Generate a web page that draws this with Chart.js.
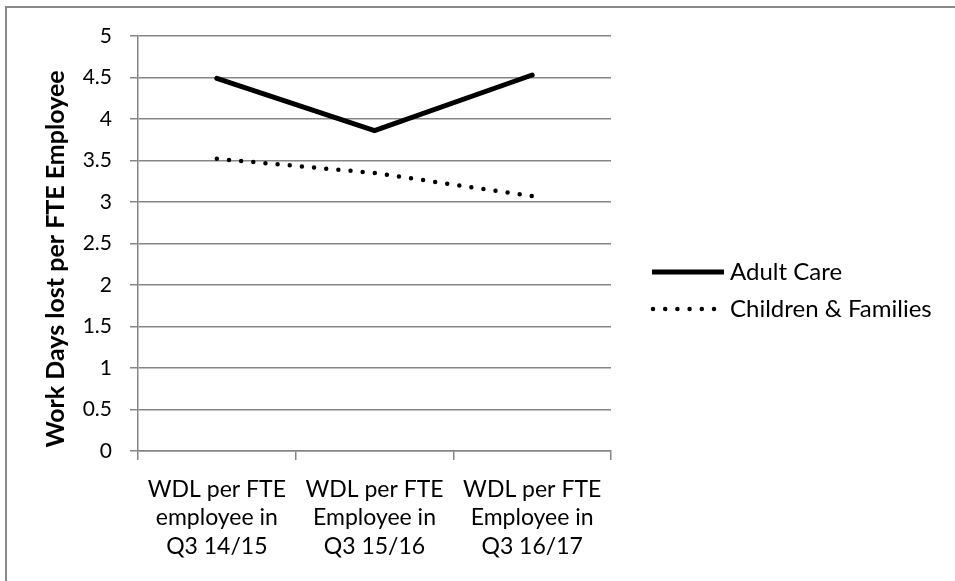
<!DOCTYPE html>
<html>
<head>
<meta charset="utf-8">
<script src="https://cdn.jsdelivr.net/npm/chart.js@4/dist/chart.umd.min.js"></script>
<style>
  html, body { margin: 0; padding: 0; background: #fff; overflow: hidden; }
  canvas { display: block; }
</style>
</head>
<body>
<canvas id="c" width="955" height="581"></canvas>
<script>
// Quarterly work days lost per FTE employee, by service area
const categories = [
  ["WDL per FTE", "employee in", "Q3 14/15"],
  ["WDL per FTE", "Employee in", "Q3 15/16"],
  ["WDL per FTE", "Employee in", "Q3 16/17"]
];
const adultCare = [4.49, 3.86, 4.53];
const childrenFamilies = [3.52, 3.35, 3.07];
const seriesNames = ["Adult Care", "Children & Families"];
const yAxisTitle = "Work Days lost per FTE Employee";

const FONT = "Lato, 'Open Sans', sans-serif";
const GRID = "#868686";

// Outer frame, rotated axis title and the line legend
const decorations = {
  id: "decorations",
  afterDraw(chart) {
    const ctx = chart.ctx;
    ctx.save();
    ctx.strokeStyle = "#8a8a8a";
    ctx.lineWidth = 2;
    ctx.strokeRect(6, 7, 1000, 1000);

    // axis title
    ctx.save();
    ctx.translate(56, 259);
    ctx.rotate(-Math.PI / 2);
    ctx.font = "bold 25px " + FONT;
    ctx.fillStyle = "#000";
    ctx.textAlign = "center";
    ctx.textBaseline = "middle";
    ctx.fillText(yAxisTitle, 0, 0);
    ctx.restore();

    // legend
    const rows = [272, 309];
    chart.data.datasets.forEach((ds, i) => {
      const y = rows[i];
      ctx.save();
      ctx.strokeStyle = ds.borderColor;
      ctx.lineWidth = ds.borderWidth;
      ctx.setLineDash(ds.borderDash || []);
      ctx.beginPath();
      if (ds.borderDash && ds.borderDash.length) {
        ctx.lineCap = "round";
        ctx.moveTo(653, y);
        ctx.lineTo(716, y);
      } else {
        ctx.lineCap = "butt";
        ctx.moveTo(652, y);
        ctx.lineTo(724, y);
      }
      ctx.stroke();
      ctx.restore();
      ctx.font = "24px " + FONT;
      ctx.fillStyle = "#000";
      ctx.textAlign = "left";
      ctx.textBaseline = "middle";
      ctx.fillText(ds.label, 730, y);
    });
    ctx.restore();
  }
};

new Chart(document.getElementById("c"), {
  type: "line",
  data: {
    labels: categories,
    datasets: [
      {
        label: seriesNames[0],
        data: adultCare,
        borderColor: "#000",
        borderWidth: 5,
        borderCapStyle: "round",
        borderJoinStyle: "miter",
        pointRadius: 0,
        tension: 0
      },
      {
        label: seriesNames[1],
        data: childrenFamilies,
        borderColor: "#000",
        borderWidth: 4.5,
        borderDash: [0, 12.2],
        borderCapStyle: "round",
        pointRadius: 0,
        tension: 0
      }
    ]
  },
  options: {
    responsive: false,
    animation: false,
    layout: { padding: { left: 0, top: 36, right: 344, bottom: 0 } },
    plugins: {
      legend: { display: false },
      tooltip: { enabled: false }
    },
    scales: {
      x: {
        offset: true,
        grid: {
          offset: true,
          drawOnChartArea: false,
          color: GRID,
          lineWidth: 1.5,
          tickLength: 9
        },
        border: { color: GRID, width: 1.5 },
        ticks: {
          color: "#000",
          font: { family: FONT, size: 23, lineHeight: 1.24 },
          padding: 15,
          maxRotation: 0,
          autoSkip: false
        },
        afterFit(scale) { scale.height = 130; }
      },
      y: {
        min: 0,
        max: 5,
        ticks: {
          stepSize: 0.5,
          color: "#000",
          font: { family: FONT, size: 21 },
          padding: 18,
          callback: (v) => String(Math.round(v * 10) / 10)
        },
        grid: { color: GRID, lineWidth: 1.5, tickLength: 8 },
        border: { color: GRID, width: 1.5 },
        afterFit(scale) { scale.width = 138; }
      }
    }
  },
  plugins: [decorations]
});
</script>
</body>
</html>
